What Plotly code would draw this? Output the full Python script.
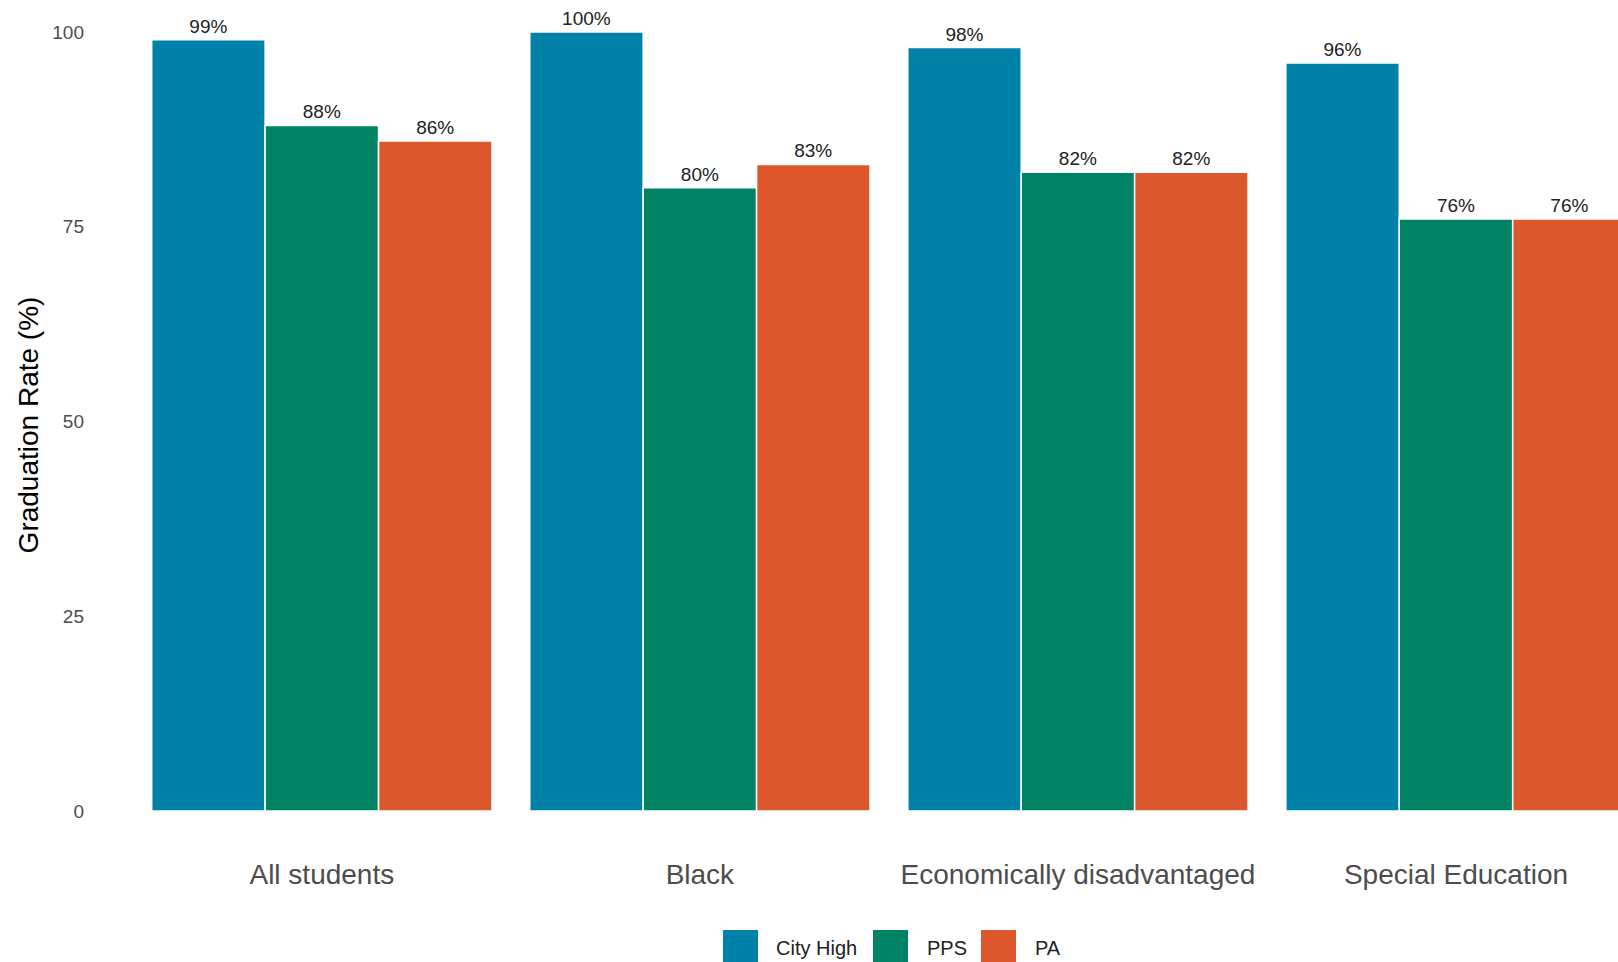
import plotly.graph_objects as go

# Graduation rates by student group
categories = ["All students", "Black", "Economically disadvantaged", "Special Education"]
series_names = ["City High", "PPS", "PA"]
city_high = [99, 100, 98, 96]
pps = [88, 80, 82, 76]
pa = [86, 83, 82, 76]
y_ticks = [0, 25, 50, 75, 100]

colors = ["#0081A7", "#008264", "#DC582C"]
values = [city_high, pps, pa]

FONT = "Liberation Sans, Arial, sans-serif"

# canvas geometry (pixels)
W, H = 1618, 962
L_MARGIN, B_MARGIN = 95, 112
plot_w = W - L_MARGIN
plot_h = H - B_MARGIN


def px_x(px):
    return (px - L_MARGIN) / plot_w


def px_y(py):
    return (plot_h - py) / plot_h


fig = go.Figure()
for name, vals, col in zip(series_names, values, colors):
    fig.add_trace(go.Bar(
        x=list(range(len(categories))),
        y=vals,
        name=name,
        marker=dict(color=col, line=dict(color="white", width=1.5)),
        text=[f"{v}%" for v in vals],
        textposition="outside",
        textfont=dict(family=FONT, size=19, color="#222222"),
        cliponaxis=False,
        showlegend=False,
    ))

# legend drawn as keys + labels below the panel
legend_items = [
    (723, 758, 774),
    (873, 908, 925),
    (981, 1016, 1033),
]
shapes = []
annotations = []
for (k0, k1, tx), name, col in zip(legend_items, series_names, colors):
    shapes.append(dict(
        type="rect", xref="paper", yref="paper",
        x0=px_x(k0), x1=px_x(k1), y0=px_y(930), y1=px_y(966),
        fillcolor=col, line=dict(width=0), layer="above",
    ))
    annotations.append(dict(
        xref="paper", yref="paper", x=px_x(tx), y=px_y(948),
        text=name, showarrow=False, xanchor="left", yanchor="middle",
        font=dict(family=FONT, size=20, color="#222222"),
    ))

fig.update_layout(
    width=W, height=H,
    margin=dict(l=L_MARGIN, r=0, t=0, b=B_MARGIN, autoexpand=False),
    paper_bgcolor="white", plot_bgcolor="white",
    barmode="group", bargap=0.1, bargroupgap=0,
    font=dict(family=FONT),
    shapes=shapes,
    annotations=annotations,
    xaxis=dict(
        range=[-0.6, 3.4286],
        tickvals=list(range(len(categories))),
        ticktext=categories,
        tickfont=dict(family=FONT, size=28, color="#4D4D4D"),
        showgrid=False, zeroline=False, showline=False, ticks="",
        ticklabelstandoff=5,
    ),
    yaxis=dict(
        range=[-5, 104.1],
        tickvals=y_ticks,
        tickfont=dict(family=FONT, size=19, color="#4D4D4D"),
        showgrid=False, zeroline=False, showline=False, ticks="",
        ticklabelstandoff=10,
        title=dict(text="Graduation Rate (%)",
                   font=dict(family=FONT, size=28, color="#000000"),
                   standoff=5),
    ),
)

fig.write_html("out.html")
